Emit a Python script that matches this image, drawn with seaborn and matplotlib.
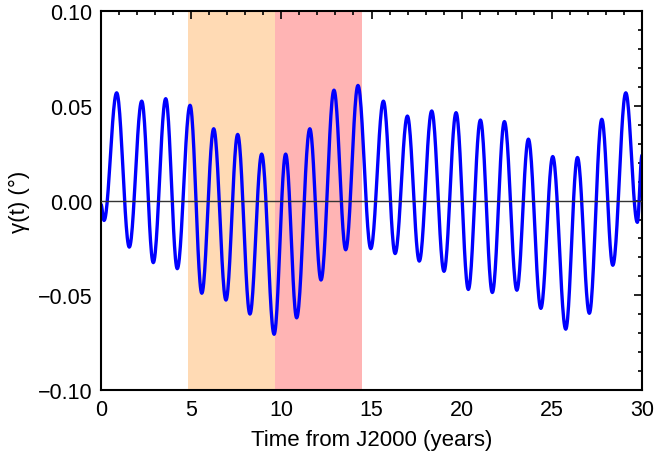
import numpy as np
import pandas as pd
import matplotlib
matplotlib.use("Agg")
import matplotlib.pyplot as plt
from matplotlib.ticker import MultipleLocator, FuncFormatter
import seaborn as sns

# Extrema of gamma(t) (time in years, value in degrees)
t_ext = [0.0, 0.17, 0.87, 1.57, 2.26, 2.90, 3.59, 4.23, 4.94, 5.59, 6.25, 6.93,
         7.58, 8.26, 8.91, 9.60, 10.24, 10.85, 11.58, 12.20, 12.92, 13.57, 14.25,
         14.96, 15.66, 16.31, 16.99, 17.65, 18.34, 19.02, 19.69, 20.37, 21.04,
         21.70, 22.37, 23.06, 23.70, 24.39, 25.05, 25.77, 26.42, 27.08, 27.77,
         28.38, 29.10, 29.74, 30.0]
g_ext = [-0.002, -0.0105, 0.057, -0.0246, 0.0526, -0.0328, 0.0539, -0.036,
         0.0504, -0.049, 0.038, -0.0526, 0.035, -0.060, 0.0246, -0.0707, 0.0246,
         -0.062, 0.038, -0.042, 0.0584, -0.026, 0.0609, -0.0254, 0.0526, -0.028,
         0.0447, -0.032, 0.0474, -0.0374, 0.0465, -0.047, 0.0426, -0.0486, 0.0418,
         -0.0474, 0.0325, -0.057, 0.0233, -0.068, 0.0228, -0.0596, 0.043, -0.0342,
         0.057, -0.0115, 0.024]

# Shaded intervals (years)
span_starts = [4.84, 9.65]
span_ends = [9.65, 14.5]
span_colors = ["#FFDAB4", "#FFB4B4"]

x_ticks = [0, 5, 10, 15, 20, 25, 30]
y_ticks = [-0.10, -0.05, 0.00, 0.05, 0.10]

# smooth drawing of the curve through the read extrema (half-cosine shape)
tt, gg = [], []
for i in range(len(t_ext) - 1):
    s = np.linspace(0, 1, 25, endpoint=False)
    w = (1 - np.cos(np.pi * s)) / 2
    tt.extend(t_ext[i] + (t_ext[i + 1] - t_ext[i]) * s)
    gg.extend(g_ext[i] + (g_ext[i + 1] - g_ext[i]) * w)
tt.append(t_ext[-1]); gg.append(g_ext[-1])
df = pd.DataFrame({"t": tt, "gamma": gg})

sns.set_theme(style="white")
plt.rcParams["font.family"] = ["Liberation Sans", "DejaVu Sans"]

fig = plt.figure(figsize=(6.57, 4.56), dpi=100)
ax = fig.add_axes([0.1537, 0.1432, 0.8235, 0.8294])

for a, b, c in zip(span_starts, span_ends, span_colors):
    ax.axvspan(a, b, color=c, lw=0, zorder=0)

sns.lineplot(data=df, x="t", y="gamma", ax=ax, color="#0000FF", lw=2.4,
             sort=False, estimator=None, zorder=2)
ax.axhline(0, color="#333333", lw=1.0, zorder=3)

ax.set_xlim(0, 30)
ax.set_ylim(-0.10, 0.10)
ax.set_xticks(x_ticks)
ax.set_yticks(y_ticks)
ax.xaxis.set_minor_locator(MultipleLocator(1))
ax.yaxis.set_minor_locator(MultipleLocator(0.01))
ax.yaxis.set_major_formatter(FuncFormatter(
    lambda v, p: ("%.2f" % v).replace("-", "\u2212") if abs(v) > 1e-9 else "0.00"))
ax.tick_params(which="both", direction="in", top=True, right=True,
               colors="black", labelcolor="black", width=1.2, labelsize=15.5)
ax.tick_params(axis="y", which="major", length=6, pad=6)
ax.tick_params(axis="x", which="major", length=6, pad=7)
ax.tick_params(which="minor", length=3)
for sp in ax.spines.values():
    sp.set_color("black")
    sp.set_linewidth(1.5)

ax.set_xlabel("Time from J2000 (years)", fontsize=16, labelpad=6, color="black")
ax.set_ylabel("γ(t) (°)", fontsize=16, labelpad=6, color="black")

fig.savefig("out.png", dpi=100)
